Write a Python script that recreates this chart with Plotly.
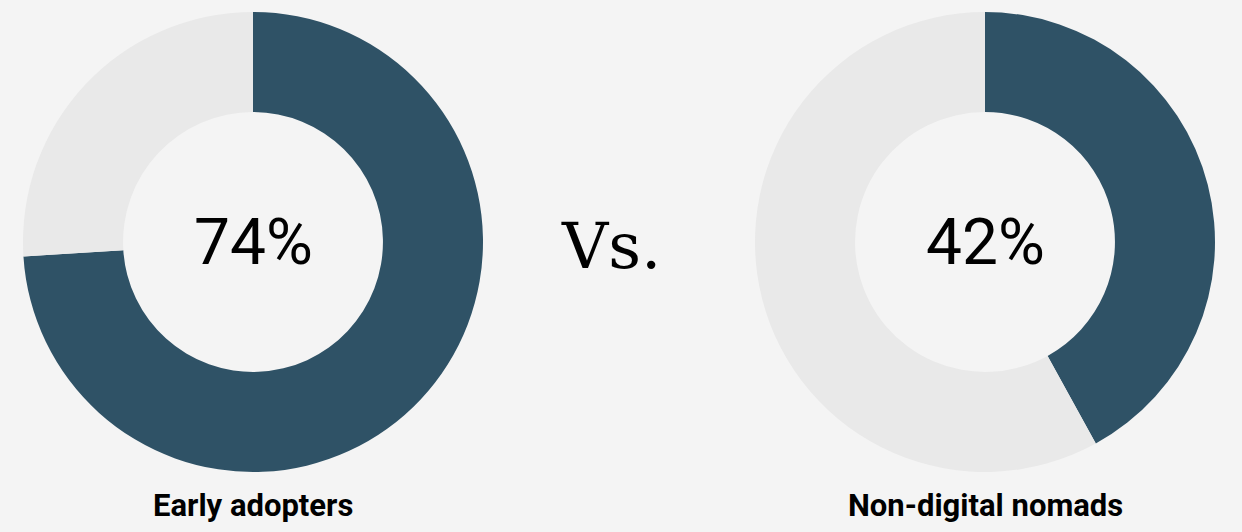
import plotly.graph_objects as go

# Share of respondents, per group
groups = ["Early adopters", "Non-digital nomads"]
shares = [74, 42]
slice_labels = ["Yes", "No"]

DARK = "#2f5266"
LIGHT = "#e9e9e9"
BG = "#f4f4f4"

W, H = 1242, 532

# Pie domains (paper coords), centres at x=253 and x=985, radius 230 px
domains = [
    dict(x=[23 / W, 483 / W], y=[(H - 472) / H, (H - 12) / H]),
    dict(x=[755 / W, 1215 / W], y=[(H - 472) / H, (H - 12) / H]),
]
centres_x = [253 / W, 985 / W]

fig = go.Figure()

for share, dom in zip(shares, domains):
    fig.add_trace(
        go.Pie(
            labels=slice_labels,
            values=[share, 100 - share],
            hole=0.565,
            sort=False,
            direction="clockwise",
            rotation=0,
            marker=dict(colors=[DARK, LIGHT], line=dict(width=0)),
            textinfo="none",
            hoverinfo="label+value",
            domain=dom,
            showlegend=False,
        )
    )

cy = (H - 242) / H

# Percentages in the middle of each donut
for share, cx in zip(shares, centres_x):
    fig.add_annotation(
        x=cx, y=cy, xref="paper", yref="paper",
        text=f"{share}%", showarrow=False,
        font=dict(family="Roboto", size=64, color="#000000"),
        xanchor="center", yanchor="middle",
    )

# Group labels under the donuts
for name, cx in zip(groups, centres_x):
    fig.add_annotation(
        x=cx, y=(H - 505) / H, xref="paper", yref="paper",
        text=f"<b>{name}</b>", showarrow=False,
        font=dict(family="Roboto", size=31, color="#000000"),
        xanchor="center", yanchor="middle",
    )

# "Vs." between the two
fig.add_annotation(
    x=611 / W, y=(H - 246) / H, xref="paper", yref="paper",
    text="Vs.", showarrow=False,
    font=dict(family="Roboto Slab, DejaVu Serif, serif", size=64, color="#000000"),
    xanchor="center", yanchor="middle",
)

fig.update_layout(
    width=W,
    height=H,
    margin=dict(t=0, l=0, r=0, b=0),
    paper_bgcolor=BG,
    plot_bgcolor=BG,
)

# drop the default page margin so the figure fills the window
fig.write_html(
    "out.html",
    config={"displayModeBar": False},
    post_script="document.body.style.margin='0';document.body.style.background='#f4f4f4';",
)
